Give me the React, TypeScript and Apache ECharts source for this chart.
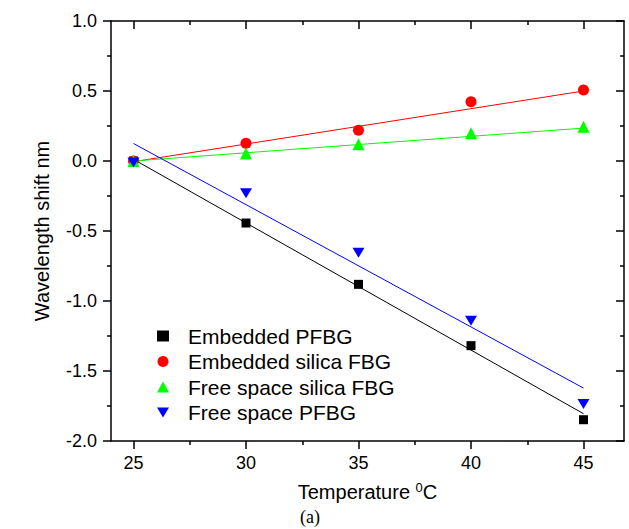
import React, { useEffect, useRef } from "react";
import * as echarts from "echarts";

const temps = [25, 30, 35, 40, 45];
const embeddedPFBG = [0, -0.443, -0.881, -1.319, -1.848];
const embeddedSilica = [0, 0.126, 0.219, 0.424, 0.507];
const freeSilica = [0, 0.054, 0.119, 0.198, 0.245];
const freePFBG = [-0.01, -0.231, -0.655, -1.141, -1.736];

// fitted line end points (at 25 and 45 °C)
const fitX = [25, 45];
const fitEmbeddedPFBG = [0.012, -1.805];
const fitEmbeddedSilica = [-0.005, 0.5];
const fitFreeSilica = [0, 0.235];
const fitFreePFBG = [0.125, -1.622];

const majorX = [25, 30, 35, 40, 45];
const minorX = [27.5, 32.5, 37.5, 42.5];

const names = [
  "Embedded PFBG",
  "Embedded silica FBG",
  "Free space silica FBG",
  "Free space PFBG",
];
const colors = ["#000000", "#ff0000", "#00ff00", "#0000ff"];

const DOWN_TRI = "path://M0,0 L2,0 L1,1.7 Z";
const FONT = "Liberation Sans, Arial, sans-serif";

export default function App() {
  const ref = useRef<HTMLDivElement>(null);
  useEffect(() => {
    const chart = echarts.init(ref.current!, null, { renderer: "svg" });
    const pair = (xs: number[], ys: number[]) => xs.map((x, i) => [x, ys[i]]);
    const axisLine = { show: true, onZero: false, lineStyle: { color: "#000", width: 1.5 } };
    const noLine = { show: false, onZero: false };
    const xBase = { type: "value", min: 24, max: 46.8, splitLine: { show: false } };
    const tickStyle = { color: "#000", width: 1.5 };
    const lineSeries = (ys: number[], c: string) => ({
      type: "line",
      data: pair(fitX, ys),
      showSymbol: false,
      symbol: "none",
      lineStyle: { color: c, width: 1 },
      z: 1,
      silent: true,
      legendHoverLink: false,
    });
    const scatter = (name: string, ys: number[], c: string, symbol: string, size: any) => ({
      type: "scatter",
      name,
      data: pair(temps, ys),
      symbol,
      symbolSize: size,
      itemStyle: { color: c, opacity: 1 },
      z: 3,
    });
    chart.setOption({
      animation: false,
      backgroundColor: "#ffffff",
      grid: { left: 111, right: 5, top: 21, bottom: 88, containLabel: false, outerBoundsMode: "none" },
      legend: {
        orient: "vertical",
        left: 152,
        top: 320.5,
        itemWidth: 12,
        itemHeight: 11,
        itemGap: 4.5,
        data: [
          { name: names[0], icon: "rect" },
          { name: names[1], icon: "circle" },
          { name: names[2], icon: "triangle" },
          { name: names[3], icon: DOWN_TRI },
        ],
        textStyle: {
          color: "#000",
          fontFamily: FONT,
          fontSize: 21,
          lineHeight: 21,
          padding: [0, 0, 0, 14],
        },
        selectedMode: false,
      },
      xAxis: [
        {
          ...xBase,
          position: "bottom",
          axisLine,
          axisTick: { show: true, length: 8, customValues: majorX, lineStyle: tickStyle },
          axisLabel: {
            show: true,
            customValues: majorX,
            color: "#000",
            fontFamily: FONT,
            fontSize: 18,
            margin: 13,
          },
          name: "Temperature {s|0}C",
          nameLocation: "middle",
          nameGap: 40,
          nameTextStyle: {
            color: "#000",
            fontFamily: FONT,
            fontSize: 20,
            lineHeight: 22,
            rich: { s: { fontSize: 13, verticalAlign: "top", lineHeight: 22, color: "#000", fontFamily: FONT } },
          },
        },
        {
          ...xBase,
          position: "bottom",
          axisLine: noLine,
          axisTick: { show: true, length: 4, customValues: minorX, lineStyle: tickStyle },
          axisLabel: { show: false },
        },
        {
          ...xBase,
          position: "top",
          axisLine,
          axisTick: { show: true, inside: true, length: 8, customValues: majorX, lineStyle: tickStyle },
          axisLabel: { show: false },
        },
        {
          ...xBase,
          position: "top",
          axisLine: noLine,
          axisTick: { show: true, inside: true, length: 4, customValues: minorX, lineStyle: tickStyle },
          axisLabel: { show: false },
        },
      ],
      yAxis: [
        {
          type: "value",
          position: "left",
          min: -2,
          max: 1,
          interval: 0.5,
          splitLine: { show: false },
          axisLine,
          axisTick: { show: true, length: 8, lineStyle: tickStyle },
          minorTick: { show: true, splitNumber: 2, length: 4, lineStyle: tickStyle },
          axisLabel: {
            color: "#000",
            fontFamily: FONT,
            fontSize: 18,
            margin: 14,
            formatter: (v: number) => v.toFixed(1),
          },
          name: "Wavelength shift nm",
          nameLocation: "middle",
          nameGap: 59,
          nameTextStyle: { color: "#000", fontFamily: FONT, fontSize: 20 },
        },
        {
          type: "value",
          position: "right",
          min: -2,
          max: 1,
          interval: 0.5,
          splitLine: { show: false },
          axisLine,
          axisTick: { show: true, inside: true, length: 8, lineStyle: tickStyle },
          minorTick: { show: true, splitNumber: 2, length: 4, lineStyle: tickStyle },
          axisLabel: { show: false },
        },
      ],
      graphic: [
        {
          type: "text",
          left: 300,
          top: 508,
          style: { text: "(a)", fill: "#000", font: "18px 'Liberation Serif', 'Times New Roman', serif" },
        },
      ],
      series: [
        lineSeries(fitEmbeddedPFBG, colors[0]),
        lineSeries(fitEmbeddedSilica, colors[1]),
        lineSeries(fitFreeSilica, colors[2]),
        lineSeries(fitFreePFBG, colors[3]),
        scatter(names[0], embeddedPFBG, colors[0], "rect", 9),
        scatter(names[1], embeddedSilica, colors[1], "circle", 11),
        scatter(names[2], freeSilica, colors[2], "triangle", 12),
        scatter(names[3], freePFBG, colors[3], DOWN_TRI, [12, 10]),
      ],
    });
    return () => chart.dispose();
  }, []);
  return (
    <div
      ref={ref}
      style={{ position: "fixed", left: 0, top: 0, width: 629, height: 529, background: "#fff" }}
    />
  );
}
